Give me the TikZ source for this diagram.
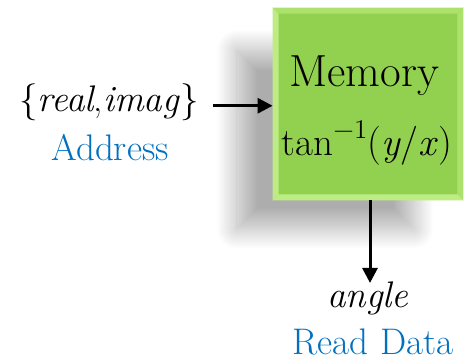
\documentclass[tikz,border=0pt]{standalone}
\usetikzlibrary{arrows.meta,shadows.blur}
\definecolor{memgreen}{RGB}{146,208,80}
\definecolor{bevlight}{RGB}{190,236,132}
\definecolor{bevmid}{RGB}{172,226,108}
\definecolor{addrblue}{RGB}{0,112,192}
\tikzset{
  lbl/.style={anchor=base,inner sep=1pt,font=\fontsize{18.5}{22}\selectfont},
  memtxt/.style={anchor=base,inner sep=1pt,font=\fontsize{22.5}{27}\selectfont},
  arr/.style={line width=1.5pt,-{Triangle[length=7.5pt,width=7.5pt]}}
}
\begin{document}
\begin{tikzpicture}[x=0.5pt,y=-0.5pt]
\useasboundingbox (0,0) rectangle (464,359);
% memory block with its shadow
\node (mem) at (368,104) [fill=memgreen,minimum width=95pt,minimum height=96pt,inner sep=0pt,
  blur shadow={shadow xshift=-23pt,shadow yshift=-19pt,shadow scale=0.93,shadow blur radius=11pt,
  shadow blur steps=30,shadow opacity=32}] {};
\fill[bevlight] (mem.north west)--(mem.south west)--([shift={(3pt,3pt)}]mem.south west)--([shift={(3pt,-3pt)}]mem.north west)--cycle;
\fill[bevmid] (mem.north west)--(mem.north east)--([shift={(-3pt,-3pt)}]mem.north east)--([shift={(3pt,-3pt)}]mem.north west)--cycle;
\fill[bevmid] (mem.north east)--(mem.south east)--([shift={(-3pt,3pt)}]mem.south east)--([shift={(-3pt,-3pt)}]mem.north east)--cycle;
\fill[bevlight] (mem.south west)--(mem.south east)--([shift={(-3pt,3pt)}]mem.south east)--([shift={(3pt,3pt)}]mem.south west)--cycle;
\node (memname) at (364,86) [memtxt] {Memory};
\node (memfun) at (367,155) [memtxt,font=\fontsize{19.5}{24}\selectfont] {tan\raisebox{0.42em}{\fontsize{13.5}{16}\selectfont −1}(\textit{y}/\textit{x})};
% input
\node (inp) at (109,111) [lbl] {\{\textit{real},\textit{imag}\}};
\node (addr) at (110,160) [lbl,text=addrblue] {Address};
\draw[arr] ([xshift=6pt,yshift=-2pt]inp.east) -- ([yshift=-2pt]inp.east -| mem.west);
% output
\node (ang) at (368,307) [lbl] {\textit{angle}};
\node (rd) at (373,354) [lbl,text=addrblue] {Read Data};
\draw[arr] ([xshift=1pt]mem.south) -- ([xshift=1pt,yshift=-2pt]ang.north);
\end{tikzpicture}
\end{document}
